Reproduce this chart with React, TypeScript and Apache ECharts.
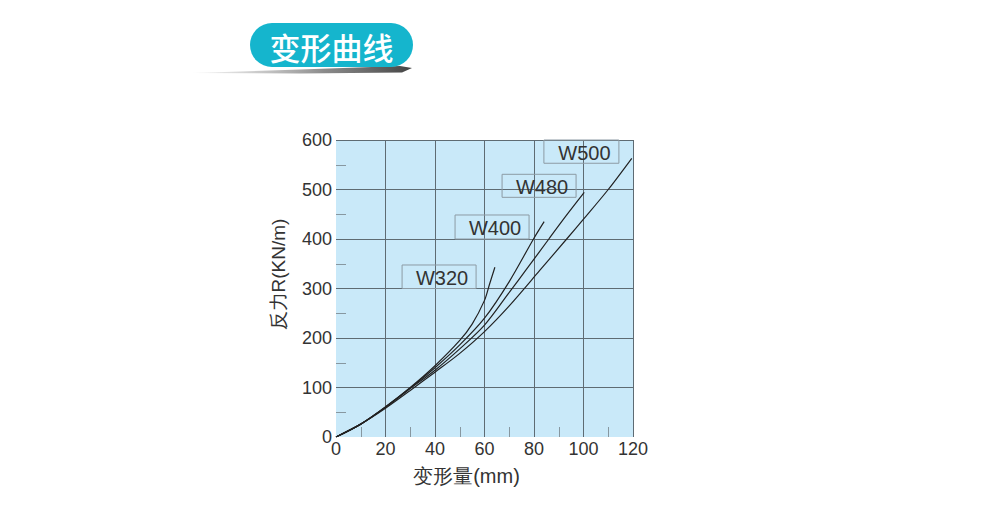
import React, { useEffect, useRef } from "react";
import * as echarts from "echarts";

const title = "变形曲线";
const xName = "变形量(mm)";
const yName = "反力R(KN/m)";

const w320X = [0, 10, 20, 30, 40, 50, 55, 60, 62, 64.2];
const w320Y = [0, 26, 61, 100, 144, 195, 228, 276, 308, 343];

const w400X = [0, 10, 20, 30, 40, 50, 60, 70, 79.8, 84.1];
const w400Y = [0, 26, 60, 99, 140, 186, 240, 314, 400, 435];

const w480X = [0, 10, 20, 30, 40, 50, 60, 70, 77, 86, 93, 100.3];
const w480Y = [0, 26, 60, 98, 135, 178, 226, 292, 339, 400, 447, 494];

const w500X = [0, 10, 20, 30, 40, 50, 60, 70, 82.4, 93.2, 100, 110, 119.5];
const w500Y = [0, 26, 58, 94, 131, 169, 213, 265, 337, 400, 440, 500, 563];

const seriesNames = ["W320", "W400", "W480", "W500"];
// label boxes in data coordinates: [x1, y1, x2, y2]
const labelBoxes = [
  [26.7, 300, 56.6, 347.5],
  [48.1, 400, 78.0, 448.5],
  [67.1, 484.2, 97.0, 530.7],
  [84.0, 553, 114.3, 600],
];

const FONT = "'Liberation Sans', Arial, sans-serif";

function pairs(xs: number[], ys: number[]) {
  return xs.map((x, i) => [x, ys[i]]);
}

export default function App() {
  const ref = useRef<HTMLDivElement>(null);
  useEffect(() => {
    if (!ref.current) return;
    const chart = echarts.init(ref.current, undefined, { renderer: "svg" });
    const allData = [
      pairs(w320X, w320Y),
      pairs(w400X, w400Y),
      pairs(w480X, w480Y),
      pairs(w500X, w500Y),
    ];
    const axisCommon = {
      axisLine: { show: false },
      axisTick: { show: false, inside: true },
      minorTick: {
        show: true,
        splitNumber: 2,
        length: 10,
        lineStyle: { color: "#8797a0", width: 1 },
      },
      splitLine: {
        show: true,
        showMinLine: false,
        showMaxLine: true,
        lineStyle: { color: "#5e6b73", width: 1 },
      },
    };
    chart.setOption({
      animation: false,
      backgroundColor: "#ffffff",
      grid: {
        left: 336,
        top: 140,
        right: 351,
        bottom: 89,
        show: true,
        backgroundColor: "#c9e9f9",
        borderWidth: 0,
      },
      xAxis: {
        type: "value",
        min: 0,
        max: 120,
        interval: 20,
        name: xName,
        nameLocation: "middle",
        nameGap: 29,
        nameTextStyle: {
          fontSize: 20,
          color: "#333",
          fontFamily: FONT,
          padding: [0, 36, 0, 0],
        },
        axisLabel: { fontSize: 18, color: "#333", fontFamily: FONT, margin: 3 },
        ...axisCommon,
      },
      yAxis: {
        type: "value",
        min: 0,
        max: 600,
        interval: 100,
        name: yName,
        nameLocation: "middle",
        nameGap: 48,
        nameRotate: 90,
        nameTextStyle: {
          fontSize: 19,
          color: "#333",
          fontFamily: FONT,
          padding: [0, 0, 0, 28],
        },
        axisLabel: { fontSize: 18, color: "#333", fontFamily: FONT, margin: 4 },
        ...axisCommon,
      },
      graphic: [
        {
          type: "polygon",
          shape: {
            points: [
              [192, 73],
              [300, 69.5],
              [400, 66],
              [412, 68],
              [402, 72.5],
              [300, 73.5],
            ],
          },
          style: {
            fill: new echarts.graphic.LinearGradient(0, 0, 1, 0, [
              { offset: 0, color: "rgba(190,190,190,0.2)" },
              { offset: 0.6, color: "rgba(110,110,110,0.8)" },
              { offset: 1, color: "#444" },
            ]),
          },
        },
        {
          type: "rect",
          shape: { x: 250, y: 23, width: 163, height: 44, r: 22 },
          style: { fill: "#15b5cd" },
        },
        {
          type: "text",
          x: 331.5,
          y: 46,
          style: {
            text: title,
            fill: "#ffffff",
            fontSize: 31,
            fontWeight: 500,
            fontFamily: "'Noto Sans CJK SC', sans-serif",
            align: "center",
            verticalAlign: "middle",
          },
        },
      ],
      series: allData.map((d, i) => ({
        name: seriesNames[i],
        type: "line",
        data: d,
        smooth: 0.3,
        showSymbol: false,
        symbol: "none",
        lineStyle: { color: "#222", width: 1.2 },
        markArea: {
          silent: true,
          itemStyle: {
            color: "rgba(0,0,0,0)",
            borderColor: "#8d9ba4",
            borderWidth: 1,
          },
          label: {
            show: true,
            position: "inside",
            color: "#333",
            fontSize: 20,
            fontFamily: FONT,
            offset: [3, 1],
          },
          data: [
            [
              { name: seriesNames[i], coord: [labelBoxes[i][0], labelBoxes[i][1]] },
              { coord: [labelBoxes[i][2], labelBoxes[i][3]] },
            ],
          ],
        },
      })),
    });
    return () => chart.dispose();
  }, []);
  return (
    <div
      ref={ref}
      style={{ position: "absolute", left: 0, top: 0, width: 984, height: 526 }}
    />
  );
}
